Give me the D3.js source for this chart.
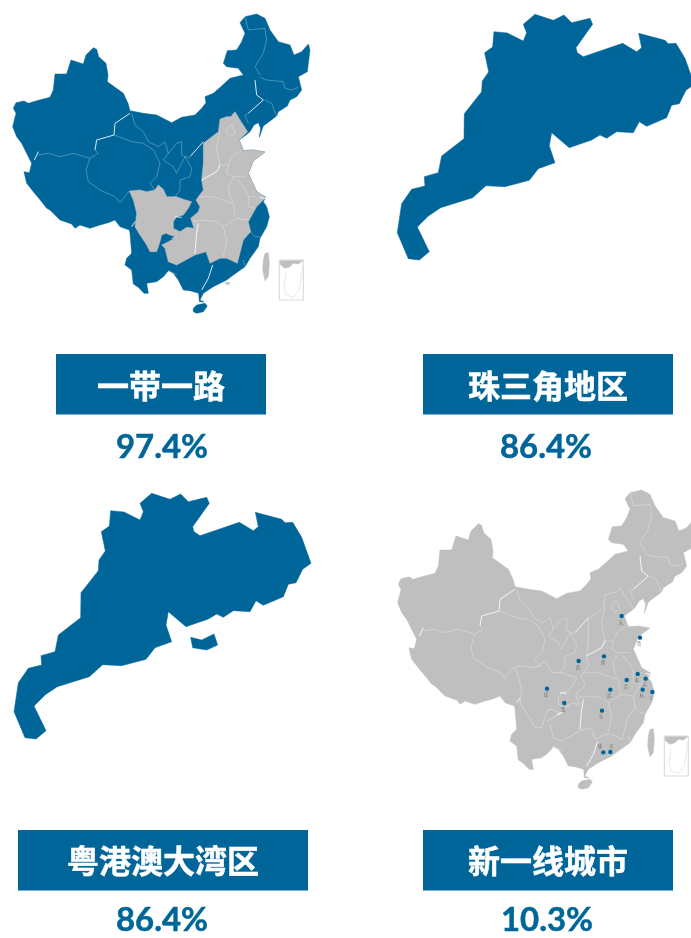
<!DOCTYPE html>
<html>
<head>
<meta charset="utf-8">
<script src="https://cdn.jsdelivr.net/npm/d3@7"></script>
<style>
  html, body { margin: 0; padding: 0; background: #fff; overflow: hidden; }
  svg { display: block; }
</style>
</head>
<body>
<div id="graphic"></div>
<script>
// panel labels and values
var panelTitles = ['一带一路', '珠三角地区', '粤港澳大湾区', '新一线城市'];
var panelValues = ['97.4%', '86.4%', '86.4%', '10.3%'];

// china outline (map units)
var chinaOutline = [[40,325],[48,308],[72,303],[85,310],[110,302],[150,292],[160,270],[165,222],[200,222],[213,180],[250,192],[258,165],[280,143],[290,148],[296,170],[318,190],[324,225],[322,245],[345,262],[370,280],[384,310],[390,332],[430,340],[470,345],[515,368],[545,352],[585,345],[605,325],[618,308],[615,290],[640,280],[665,258],[690,235],[730,225],[715,205],[680,200],[670,190],[682,152],[710,150],[725,125],[735,100],[720,68],[735,50],[770,42],[795,55],[810,90],[835,125],[870,135],[882,165],[905,155],[925,132],[930,150],[922,215],[895,230],[905,270],[890,290],[870,300],[862,318],[835,335],[830,348],[790,378],[778,412],[782,385],[775,368],[762,375],[750,395],[738,405],[718,420],[730,452],[760,450],[795,456],[760,482],[745,520],[770,575],[798,592],[790,605],[800,620],[808,650],[800,680],[780,715],[775,740],[750,775],[735,800],[700,825],[680,840],[640,860],[610,880],[600,900],[612,906],[598,905],[596,880],[570,872],[550,870],[535,840],[520,820],[505,812],[490,830],[470,845],[440,850],[445,880],[432,880],[415,862],[400,852],[395,810],[375,795],[380,775],[395,760],[390,700],[388,690],[360,680],[345,660],[325,668],[300,675],[270,685],[240,675],[225,685],[215,672],[180,660],[150,630],[140,625],[125,605],[100,575],[80,550],[72,515],[88,518],[95,490],[85,470],[65,430],[50,410],[38,380],[48,340]];
var hainanOutline = [[580,925],[590,915],[615,910],[622,918],[610,935],[590,940],[580,935]];
var taiwanOutline = [[795,760],[805,758],[808,790],[805,830],[795,842],[788,810],[790,780]];
var hongKongOutline = [[675,847],[690,848],[688,853],[678,853]];

// provinces shown grey in the first map
var sichuanOutline = [[388,573],[420,570],[440,575],[465,570],[475,555],[490,568],[500,590],[530,590],[550,598],[575,605],[565,625],[550,645],[530,650],[520,665],[520,685],[540,695],[530,712],[510,705],[498,700],[485,705],[480,725],[470,755],[450,755],[440,735],[420,705],[405,680],[410,640],[400,600],[388,573]];
var eastGreyOutline = [[660,357],[680,350],[692,350],[705,335],[720,360],[743,395],[718,420],[730,452],[760,450],[795,456],[760,482],[745,520],[770,575],[798,592],[770,620],[745,665],[752,695],[730,720],[712,790],[680,775],[660,775],[630,790],[618,755],[585,765],[530,795],[505,785],[495,745],[485,735],[505,725],[530,712],[540,695],[560,682],[582,685],[572,655],[595,635],[600,620],[588,600],[595,590],[610,570],[605,540],[610,490],[610,430],[655,395]];

// province borders, faint and bright ones
var faintBorders = [
  [[285,450],[295,460],[270,475],[220,460],[180,470],[145,460],[115,465]],
  [[270,475],[258,510],[265,545],[300,570],[345,590],[360,608],[388,573]],
  [[342,405],[395,425],[430,430],[460,450],[480,490],[470,530],[450,550],[465,570]],
  [[395,340],[405,375],[430,395],[445,425],[475,440],[495,425],[505,460],[490,480],[520,500],[530,520],[555,470],[575,505],[570,530],[540,540],[540,570],[525,590]],
  [[505,460],[530,430],[545,425],[545,465],[570,475]],
  [[735,50],[745,90],[795,85],[800,120],[790,160],[765,200],[780,225]],
  [[780,232],[800,240],[850,245],[855,265],[875,270],[895,262]],
  [[795,300],[815,310],[830,350]],
  [[745,340],[735,345],[745,370]],
  [[660,395],[650,440],[655,475],[660,495]],
  [[655,495],[685,495],[695,470],[725,450]],
  [[680,385],[695,375],[705,400],[690,410],[680,400],[680,385]],
  [[685,495],[680,520],[700,530],[685,560],[690,590],[700,610],[705,650]],
  [[700,530],[735,530]],
  [[710,535],[735,565],[745,590],[770,590]],
  [[745,590],[745,620],[765,625]],
  [[595,590],[640,590],[695,610]],
  [[580,665],[610,660],[650,665],[670,680],[710,655],[745,660]],
  [[670,680],[680,720],[670,770]],
  [[745,690],[765,710],[780,710]],
  [[730,780],[735,800]],
  [[505,810],[530,825]]
];
var brightBorders = [
  [[390,340],[345,370],[342,405],[290,420],[285,450]],
  [[115,455],[103,480]],
  [[570,470],[610,425]],
  [[765,240],[770,285],[790,300],[745,340]],
  [[605,540],[650,515],[660,495]],
  [[595,670],[590,700],[585,760]],
  [[638,795],[625,835],[605,870]],
  [[395,680],[405,665]],
  [[530,710],[515,716]],
  [[525,650],[545,652]],
  [[780,592],[798,596]]
];
// edges of the grey provinces, only seen as borders on the all grey map
var greyEdgeBorders = [
  [[610,430],[655,395],[660,357],[680,350],[692,350],[705,335],[720,360],[743,395]],
  [[610,430],[610,490],[605,540],[610,570],[595,590],[588,600],[600,620],[595,635],[572,655],[582,685],[560,682],[540,695],[530,712],[505,725],[485,735]],
  [[495,745],[505,785],[530,795],[585,765],[618,755],[630,790],[660,775],[680,775],[712,790]],
  [[798,592],[770,620],[745,665],[752,695],[730,720],[712,790]],
  sichuanOutline
];

// south china sea inset
var insetFrame = [[838,780],[910,780],[910,900],[838,900],[838,780]];
var insetLand = [[840,782],[908,782],[895,792],[880,790],[870,800],[855,805],[842,795]];
var insetLine = [[858,820],[852,860],[858,885],[880,893],[898,870],[908,800]];

// guangdong outline
var guangdongOutline = [[455,40],[510,58],[542,42],[565,65],[620,52],[628,70],[578,140],[582,155],[600,167],[718,127],[760,152],[775,140],[766,97],[845,118],[855,128],[878,127],[905,172],[933,250],[908,268],[888,308],[865,313],[850,350],[790,376],[768,362],[750,395],[700,392],[670,412],[650,402],[625,417],[558,440],[505,395],[498,435],[515,485],[465,503],[438,538],[365,557],[308,554],[268,590],[172,620],[135,645],[102,678],[138,752],[108,777],[75,773],[42,695],[55,608],[85,565],[125,555],[123,527],[165,515],[175,465],[242,413],[243,338],[295,272],[297,240],[316,213],[304,155],[328,138],[332,92],[372,96],[420,120],[430,95],[420,70]];
var hongKongIsland = [[572,472],[605,480],[642,462],[653,495],[620,510],[578,503]];

// new first tier cities
var cityNames = ['天','青','郑','西','南','苏','合','杭','宁','武','成','重','长','佛','东'];
var cityX = [710,765,657,581,758,782,725,773,802,676,486,538,651,655,676];
var cityY = [420,485,541,555,594,608,612,641,648,641,638,681,704,829,828];

var BLUE = '#006699', GREY = '#bfbfbf';

var svg = d3.select('#graphic').append('svg')
    .attr('width', 691)
    .attr('height', 938);

// the source is a slightly soft raster
svg.append('defs').append('filter')
    .attr('id', 'soft')
    .append('feGaussianBlur')
    .attr('stdDeviation', 0.4);

var root = svg.append('g').attr('filter', 'url(#soft)');
root.append('rect').attr('width', 691).attr('height', 938).attr('fill', '#fff');

function mapGroup(dx, dy) {
  // map units are 3 to a pixel
  var x = d3.scaleLinear().domain([0, 960]).range([dx, dx + 320]);
  var y = d3.scaleLinear().domain([0, 990]).range([dy, dy + 330]);
  var g = root.append('g');
  var line = d3.line().x(function(d) { return x(d[0]); }).y(function(d) { return y(d[1]); });
  return {g: g, x: x, y: y, line: line};
}

function fillShape(m, pts, color) {
  m.g.append('path')
      .attr('d', m.line(pts) + 'Z')
      .attr('fill', color)
      .attr('stroke', color)
      .attr('stroke-width', 0.5)
      .attr('stroke-linejoin', 'round');
}

function drawLines(m, lines, opacity, width) {
  m.g.append('g').selectAll('path').data(lines).enter().append('path')
      .attr('d', m.line)
      .attr('fill', 'none')
      .attr('stroke', '#fff')
      .attr('stroke-opacity', opacity)
      .attr('stroke-width', width);
}

function drawBorders(m) {
  drawLines(m, faintBorders, 0.35, 0.8);
  drawLines(m, brightBorders, 0.85, 1);
}

function drawInset(m) {
  fillShape(m, taiwanOutline, GREY);
  m.g.append('path').attr('d', m.line(insetFrame))
      .attr('fill', 'none').attr('stroke', '#dcdcdc').attr('stroke-width', 1.2);
  fillShape(m, insetLand, GREY);
  m.g.append('path').attr('d', m.line(insetLine))
      .attr('fill', 'none').attr('stroke', '#e2e2e2').attr('stroke-width', 0.8);
}

// map 1, belt and road
var map1 = mapGroup(0, 0);
fillShape(map1, chinaOutline, BLUE);
fillShape(map1, hainanOutline, BLUE);
fillShape(map1, sichuanOutline, GREY);
fillShape(map1, eastGreyOutline, GREY);
fillShape(map1, hongKongOutline, GREY);
drawBorders(map1);
drawInset(map1);

// map 2, pearl river delta
var map2 = mapGroup(383.3, 1);
fillShape(map2, guangdongOutline, BLUE);

// map 3, greater bay area
var map3 = mapGroup(0, 480);
fillShape(map3, guangdongOutline, BLUE);
fillShape(map3, hongKongIsland, BLUE);

// map 4, new first tier cities
var map4 = mapGroup(385, 476);
fillShape(map4, chinaOutline, GREY);
fillShape(map4, hainanOutline, GREY);
drawLines(map4, greyEdgeBorders, 0.4, 0.8);
drawBorders(map4);
drawInset(map4);

map4.g.selectAll('.city').data(cityNames).enter().append('circle')
    .attr('class', 'city')
    .attr('cx', function(d, i) { return map4.x(cityX[i]); })
    .attr('cy', function(d, i) { return map4.y(cityY[i]); })
    .attr('r', 2.2)
    .attr('fill', BLUE);

map4.g.selectAll('.cityLabel').data(cityNames).enter().append('text')
    .attr('class', 'cityLabel')
    .attr('x', function(d, i) {
      var off = d === '佛' ? -3.3 : d === '东' ? 1.5 : -1;
      return map4.x(cityX[i]) + off;
    })
    .attr('y', function(d, i) { return map4.y(cityY[i]) + (i >= 13 ? -4 : 7.5); })
    .attr('text-anchor', 'middle')
    .attr('font-family', '"Noto Sans CJK SC"')
    .attr('font-size', 4.5)
    .attr('fill', '#777')
    .text(function(d) { return d; });

// title boxes and values under the maps
var boxLeft = [56, 423, 18, 423];
var boxRight = [266, 673, 308, 673];
var boxTop = [354, 354, 830, 830];
var titleBase = [398, 398, 873, 873];
var valueBase = [458, 458, 931, 931];
var valueX = [162, 546, 162, 547];

panelTitles.forEach(function(title, i) {
  var cx = (boxLeft[i] + boxRight[i]) / 2;
  root.append('rect')
      .attr('x', boxLeft[i])
      .attr('y', boxTop[i])
      .attr('width', boxRight[i] - boxLeft[i])
      .attr('height', 60.5)
      .attr('fill', BLUE);
  root.append('text')
      .attr('x', cx)
      .attr('y', titleBase[i])
      .attr('text-anchor', 'middle')
      .attr('font-family', '"Noto Sans CJK SC"')
      .attr('font-weight', 700)
      .attr('font-size', 32)
      .attr('fill', '#fff')
      .attr('stroke', '#fff')
      .attr('stroke-width', 0.5)
      .text(title);
  root.append('text')
      .attr('x', valueX[i])
      .attr('y', valueBase[i])
      .attr('text-anchor', 'middle')
      .attr('font-family', 'Lato')
      .attr('font-weight', 700)
      .attr('font-size', 33)
      .attr('textLength', 92)
      .attr('lengthAdjust', 'spacingAndGlyphs')
      .attr('fill', BLUE)
      .attr('stroke', BLUE)
      .attr('stroke-width', 0.5)
      .text(panelValues[i]);
});
</script>
</body>
</html>
